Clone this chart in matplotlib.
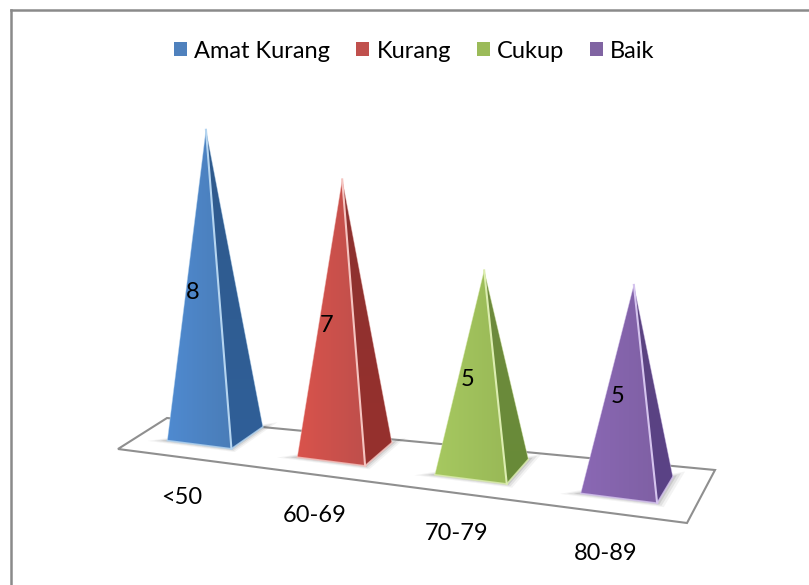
import matplotlib
matplotlib.use('Agg')
import matplotlib.pyplot as plt
from matplotlib.patches import Patch, Polygon
import numpy as np

series = ['Amat Kurang', 'Kurang', 'Cukup', 'Baik']
ranges = ['<50', '60-69', '70-79', '80-89']
values = [8, 7, 5, 5]

front_left = ['#4f8ad0', '#d9534c', '#a6c860', '#8a68b4']
front_right = ['#4a7db8', '#bf4f4b', '#99b957', '#7f60a4']
side_top = ['#2f5a8c', '#8c3230', '#6f8a3e', '#5c4480']
side_low = ['#2f5f98', '#96302d', '#688a38', '#5a4286']
edge_tint = ['#b5d5f0', '#f5c4c0', '#dcedb0', '#d5c4ee']
legend_cols = ['#4f81bd', '#c0504d', '#9bbb59', '#8064a2']

# ground plane: unit coords (along, depth) to screen pixels
anchors_uv = [(0, 0), (1, 0), (2, 0), (3, 0), (0.5, 0), (3.5, 0), (0.5, 1), (1.5, 1), (2.5, 1), (3.5, 1)]
anchors_px = [(167, 441), (297, 457), (435, 475), (581, 493), (232, 449), (657, 503),
              (263, 427), (392, 442), (528, 459), (673, 478)]
floor_px = [(118, 449), (687, 523), (715, 470), (167, 418)]


def fit_ground(uv, px):
    rows, rhs = [], []
    for (u, v), (x, y) in zip(uv, px):
        rows.append([u, v, 1, 0, 0, 0, -u * x, -v * x])
        rows.append([0, 0, 0, u, v, 1, -u * y, -v * y])
        rhs += [x, y]
    h = np.linalg.lstsq(np.array(rows, float), np.array(rhs, float), rcond=None)[0]
    return np.append(h, 1).reshape(3, 3)


H = fit_ground(anchors_uv, anchors_px)


def ground(u, v):
    x, y, w = H @ np.array([u, v, 1.0])
    return np.array([x / w, y / w])


def pyramid(i, val):
    fl = ground(i, 0)
    fr = ground(i + 0.5, 0)
    rb = ground(i + 0.5, 1)
    mid = (fl + rb) / 2
    # verticals fan out slightly, and get taller towards the right
    unit = 38 + (mid[0] - 215) * 0.005
    lean = (mid[0] - 400) * 0.0062
    apex = mid + val * np.array([lean, -unit])
    return fl, fr, rb, mid, apex


fig = plt.figure(figsize=(8.09, 5.85), dpi=100)
ax = fig.add_axes([0, 0, 1, 1])
plt.rcParams['font.family'] = ['Lato', 'DejaVu Sans']

# outer frame, only top and left fall inside the image
ax.plot([11, 809], [10, 10], color='#8a8a8a', lw=1.8, zorder=1)
ax.plot([11, 11], [10, 585], color='#8a8a8a', lw=1.8, zorder=1)

ax.add_patch(Polygon(floor_px, closed=True, fc='white', ec='#8f8f8f', lw=1.5, zorder=2))

for i, val in enumerate(values):
    fl, fr, rb, mid, apex = pyramid(i, val)
    center = (fl + fr + rb) / 3 + np.array([2, 1])

    # soft shadow round the foot
    for grow, alpha in [(1.36, 0.07), (1.24, 0.11), (1.12, 0.16)]:
        shadow = [center + (p - center) * grow for p in (fl, fr, rb)]
        ax.add_patch(Polygon(shadow, closed=True, fc='#555555', ec='none', alpha=alpha, zorder=3))

    face = Polygon([fl, fr, apex], closed=True, fc='none', ec='none', zorder=4)
    side = Polygon([fr, rb, apex], closed=True, fc='none', ec='none', zorder=4)
    ax.add_patch(face)
    ax.add_patch(side)

    c0 = np.array(matplotlib.colors.to_rgb(front_left[i]))
    c1 = np.array(matplotlib.colors.to_rgb(front_right[i]))
    t = np.linspace(0, 1, 32)[None, :, None]
    grad = c0 * (1 - t) + c1 * t
    im = ax.imshow(grad, extent=[fl[0], fr[0], fl[1] + 12, apex[1]], aspect='auto', zorder=4)
    im.set_clip_path(face)

    s0 = np.array(matplotlib.colors.to_rgb(side_top[i]))
    s1 = np.array(matplotlib.colors.to_rgb(side_low[i]))
    t = np.linspace(0, 1, 32)[:, None, None]
    grad = s0 * (1 - t) + s1 * t
    im = ax.imshow(grad, extent=[min(apex[0], fr[0]) - 1, rb[0], fr[1], apex[1]], aspect='auto', zorder=4)
    im.set_clip_path(side)

    # pale bevel along the ridge and the foot
    ax.plot([fr[0], apex[0]], [fr[1], apex[1]], color=edge_tint[i], lw=1.5, zorder=5)
    ax.plot([fl[0], fr[0], rb[0]], [fl[1], fr[1], rb[1]], color=edge_tint[i], lw=1.2, alpha=0.8, zorder=5)
    ax.plot([fl[0], apex[0]], [fl[1], apex[1]], color=edge_tint[i], lw=0.6, alpha=0.5, zorder=5)
    ax.plot([rb[0], apex[0]], [rb[1], apex[1]], color=edge_tint[i], lw=0.6, alpha=0.5, zorder=5)

    ax.text(mid[0] - 22 + (mid[0] - 215) * 0.03, (mid[1] + apex[1]) / 2 + 11, str(val),
            fontsize=17, color='black', ha='center', va='center', zorder=6)
    ax.text(fl[0] + 14 + (mid[0] - 215) * 0.027, fl[1] + 57 + (mid[0] - 215) * 0.007, ranges[i],
            fontsize=17, color='black', ha='center', va='center', zorder=6)

ax.set_xlim(0, 809)
ax.set_ylim(585, 0)
ax.axis('off')

handles = [Patch(fc=c, ec='none', label=s) for c, s in zip(legend_cols, series)]
fig.legend(handles=handles, loc='center', bbox_to_anchor=(414.5 / 809, 1 - 51 / 585), ncol=4,
           frameon=False, fontsize=17, handlelength=0.55, handleheight=0.55,
           handletextpad=0.3, columnspacing=1.1, borderpad=0)

fig.savefig('out.png', dpi=100)
